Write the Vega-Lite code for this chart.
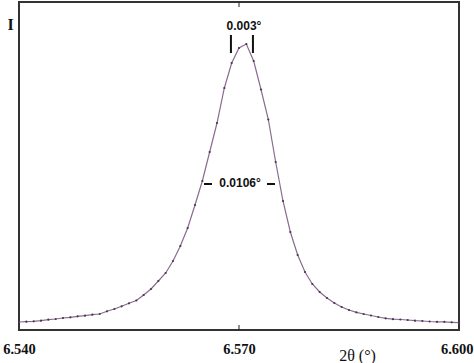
{
  "$schema": "https://vega.github.io/schema/vega-lite/v6.json",
  "width": 440,
  "height": 328,
  "autosize": {"type": "none"},
  "padding": {"left": 19, "top": 2, "right": 15, "bottom": 33},
  "background": "white",
  "config": {"view": {"stroke": "#333333", "strokeWidth": 2}},
  "datasets": {
    "peak": [
      {"t": 6.540, "I": 8}, {"t": 6.541, "I": 8.3}, {"t": 6.542, "I": 8.7}, {"t": 6.543, "I": 9.3},
      {"t": 6.544, "I": 10.3}, {"t": 6.545, "I": 11}, {"t": 6.546, "I": 12}, {"t": 6.547, "I": 12.7},
      {"t": 6.548, "I": 13.7}, {"t": 6.549, "I": 14.3}, {"t": 6.550, "I": 15.3}, {"t": 6.551, "I": 16},
      {"t": 6.552, "I": 18.7}, {"t": 6.553, "I": 21}, {"t": 6.554, "I": 23.7}, {"t": 6.555, "I": 26.7},
      {"t": 6.556, "I": 29.5}, {"t": 6.557, "I": 35}, {"t": 6.558, "I": 41}, {"t": 6.559, "I": 49},
      {"t": 6.560, "I": 57}, {"t": 6.561, "I": 69}, {"t": 6.562, "I": 84}, {"t": 6.563, "I": 102},
      {"t": 6.564, "I": 125}, {"t": 6.565, "I": 149}, {"t": 6.566, "I": 178}, {"t": 6.567, "I": 207},
      {"t": 6.568, "I": 242}, {"t": 6.569, "I": 267}, {"t": 6.570, "I": 282}, {"t": 6.571, "I": 286},
      {"t": 6.572, "I": 269}, {"t": 6.573, "I": 240.5}, {"t": 6.574, "I": 210.5}, {"t": 6.575, "I": 168},
      {"t": 6.576, "I": 129}, {"t": 6.577, "I": 98}, {"t": 6.578, "I": 75}, {"t": 6.579, "I": 58},
      {"t": 6.580, "I": 46}, {"t": 6.581, "I": 38}, {"t": 6.582, "I": 32}, {"t": 6.583, "I": 27},
      {"t": 6.584, "I": 23}, {"t": 6.585, "I": 20}, {"t": 6.586, "I": 17.7}, {"t": 6.587, "I": 16},
      {"t": 6.588, "I": 14.5}, {"t": 6.589, "I": 13}, {"t": 6.590, "I": 11.7}, {"t": 6.591, "I": 10.8},
      {"t": 6.592, "I": 10.5}, {"t": 6.593, "I": 10}, {"t": 6.594, "I": 9.3}, {"t": 6.595, "I": 9},
      {"t": 6.596, "I": 8.5}, {"t": 6.597, "I": 8.2}, {"t": 6.598, "I": 8.2}, {"t": 6.599, "I": 7.7},
      {"t": 6.600, "I": 7.3}
    ],
    "bars": [
      {"t": 6.5689, "y1": 277, "y2": 295},
      {"t": 6.5719, "y1": 277, "y2": 295}
    ],
    "dashes": [
      {"t1": 6.56523, "t2": 6.56632, "I": 146},
      {"t1": 6.57382, "t2": 6.57491, "I": 146}
    ],
    "labels": [
      {"t": 6.57068, "I": 304, "text": "0.003°"},
      {"t": 6.57014, "I": 147, "text": "0.0106°"}
    ],
    "ticks": [
      {"t": 6.570, "a": 0, "b": 5},
      {"t": 6.570, "a": 323, "b": 328}
    ]
  },
  "layer": [
    {
      "data": {"name": "peak"},
      "mark": {"type": "line", "color": "#8b6b90", "strokeWidth": 1.2},
      "encoding": {
        "x": {
          "field": "t", "type": "quantitative",
          "scale": {"domain": [6.540, 6.600], "nice": false, "zero": false},
          "axis": {
            "values": [6.540, 6.570, 6.600], "format": ".3f", "grid": false, "domain": false,
            "ticks": false,
            "labelFont": "Liberation Serif", "labelFontWeight": "bold", "labelFontSize": 14.5,
            "labelColor": "#111", "labelPadding": 12, "labelBaseline": "top", "labelFlush": false,
            "labelAlign": {"condition": {"test": "datum.value > 6.599", "value": "right"}, "value": "center"},
            "labelOffset": {"condition": {"test": "datum.value > 6.599", "value": 14}, "value": 0},
            "title": "2θ (°)", "titleFont": "Liberation Serif", "titleFontSize": 16,
            "titleFontWeight": "normal", "titleColor": "#111",
            "titleX": 338, "titleY": 17, "titleAlign": "center", "titleBaseline": "top"
          }
        },
        "y": {
          "field": "I", "type": "quantitative",
          "scale": {"domain": [0, 328], "nice": false},
          "axis": {
            "labels": false, "ticks": false, "grid": false, "domain": false,
            "title": "I", "titleAngle": 0, "titleFont": "Liberation Serif", "titleFontSize": 16,
            "titleFontWeight": "bold", "titleColor": "#111",
            "titleX": -9, "titleY": 22, "titleAlign": "center", "titleBaseline": "middle"
          }
        }
      }
    },
    {
      "data": {"name": "peak"},
      "mark": {"type": "point", "filled": true, "size": 5, "color": "#4a3552", "opacity": 1},
      "encoding": {
        "x": {"field": "t", "type": "quantitative"},
        "y": {"field": "I", "type": "quantitative"}
      }
    },
    {
      "data": {"name": "ticks"},
      "mark": {"type": "rule", "color": "#222", "strokeWidth": 1},
      "encoding": {
        "x": {"field": "t", "type": "quantitative"},
        "y": {"field": "a", "type": "quantitative"},
        "y2": {"field": "b"}
      }
    },
    {
      "data": {"name": "bars"},
      "mark": {"type": "rule", "color": "#111", "strokeWidth": 2},
      "encoding": {
        "x": {"field": "t", "type": "quantitative"},
        "y": {"field": "y1", "type": "quantitative"},
        "y2": {"field": "y2"}
      }
    },
    {
      "data": {"name": "dashes"},
      "mark": {"type": "rule", "color": "#111", "strokeWidth": 2},
      "encoding": {
        "x": {"field": "t1", "type": "quantitative"},
        "x2": {"field": "t2"},
        "y": {"field": "I", "type": "quantitative"}
      }
    },
    {
      "data": {"name": "labels"},
      "mark": {"type": "text", "font": "Liberation Sans", "fontWeight": "bold", "fontSize": 12, "color": "#111", "align": "center", "baseline": "middle"},
      "encoding": {
        "x": {"field": "t", "type": "quantitative"},
        "y": {"field": "I", "type": "quantitative"},
        "text": {"field": "text"}
      }
    }
  ]
}
